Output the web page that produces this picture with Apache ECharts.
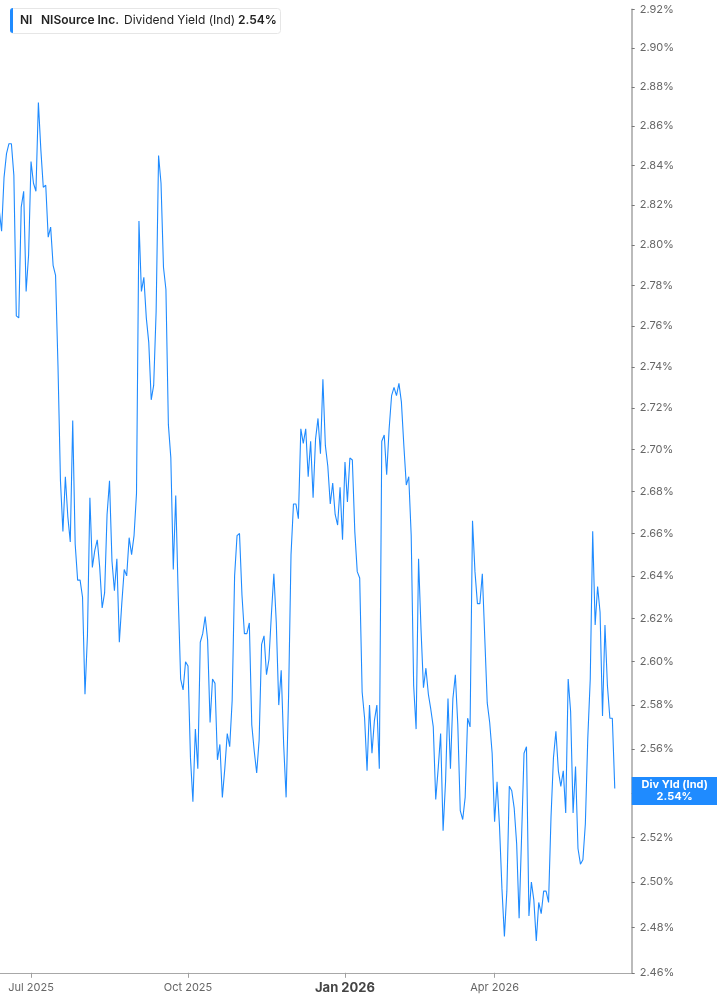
<!DOCTYPE html>
<html>
<head>
<meta charset="utf-8">
<title>NI Dividend Yield</title>
<script src="https://cdn.jsdelivr.net/npm/echarts@6/dist/echarts.min.js"></script>
<style>
  html, body { margin: 0; padding: 0; background: #fff; }
  #chart { width: 717px; height: 1005px; }
</style>
</head>
<body>
<div id="chart"></div>
<script>
// daily dividend yield (%), one value per trading day, from 11 Jun 2025
var yieldValues = [
  2.818, 2.807, 2.834, 2.846, 2.851, 2.851, 2.835, 2.765, 2.764, 2.819,
  2.827, 2.777, 2.795, 2.842, 2.831, 2.827, 2.872, 2.848, 2.829, 2.830,
  2.804, 2.809, 2.790, 2.785, 2.740, 2.685, 2.661, 2.687, 2.668, 2.656,
  2.714, 2.655, 2.638, 2.638, 2.630, 2.585, 2.612, 2.677, 2.644, 2.652,
  2.657, 2.644, 2.625, 2.632, 2.669, 2.685, 2.647, 2.633, 2.648, 2.609,
  2.627, 2.643, 2.640, 2.658, 2.650, 2.659, 2.679, 2.812, 2.777, 2.784,
  2.764, 2.752, 2.724, 2.731, 2.767, 2.845, 2.831, 2.789, 2.778, 2.712, 2.696,
  2.643, 2.678, 2.631, 2.592, 2.587, 2.600, 2.598, 2.556, 2.536,
  2.569, 2.551, 2.609, 2.613, 2.621, 2.610, 2.572, 2.592, 2.590, 2.555,
  2.562, 2.538, 2.551, 2.567, 2.561, 2.582, 2.640, 2.659, 2.660, 2.631,
  2.613, 2.613, 2.618, 2.571, 2.559, 2.549, 2.564, 2.608, 2.612, 2.594,
  2.601, 2.622, 2.641, 2.618, 2.580, 2.596, 2.562, 2.538, 2.584, 2.650,
  2.674, 2.674, 2.667, 2.710, 2.703, 2.710, 2.687, 2.704, 2.677, 2.705,
  2.715, 2.698, 2.734, 2.702, 2.692, 2.674, 2.684, 2.669,
  2.664, 2.682, 2.657, 2.694, 2.675, 2.696, 2.695, 2.661, 2.642, 2.639, 2.586, 2.574,
  2.550, 2.580, 2.558, 2.573, 2.580, 2.551, 2.704, 2.707, 2.688, 2.710,
  2.726, 2.730, 2.726, 2.732, 2.723, 2.702, 2.683, 2.687, 2.659, 2.589,
  2.569, 2.648, 2.615, 2.588, 2.597, 2.585, 2.578, 2.570, 2.537, 2.551,
  2.567, 2.523, 2.545, 2.583, 2.551, 2.583, 2.594, 2.571, 2.532, 2.528,
  2.538, 2.574, 2.570, 2.666, 2.642, 2.627, 2.627, 2.641, 2.611, 2.581,
  2.572, 2.558, 2.527, 2.545, 2.525, 2.497,
  2.476, 2.496, 2.543, 2.541, 2.533, 2.517, 2.484, 2.520, 2.558, 2.561, 2.485, 2.500, 2.492, 2.474,
  2.491, 2.486, 2.496, 2.496, 2.491, 2.529, 2.556, 2.568, 2.550, 2.543, 2.550, 2.531,
  2.592, 2.577, 2.531, 2.552, 2.515, 2.508, 2.510, 2.526, 2.565, 2.592,
  2.661, 2.617, 2.635, 2.623, 2.575, 2.617, 2.589, 2.574, 2.574, 2.542
];

var firstDay = [2025, 5, 11];
// NYSE closures: the x axis counts trading sessions only
var holidays = ['2025-06-19', '2025-07-04', '2025-09-01', '2025-11-27', '2025-12-25',
  '2026-01-01', '2026-01-19', '2026-02-16', '2026-04-03', '2026-05-25', '2026-06-19'];

var yTicks = [2.46, 2.48, 2.50, 2.52, 2.54, 2.56, 2.58, 2.60, 2.62, 2.64, 2.66, 2.68,
  2.70, 2.72, 2.74, 2.76, 2.78, 2.80, 2.82, 2.84, 2.86, 2.88, 2.90, 2.92];
var xTickMonths = [[2025, 6], [2025, 9], [2026, 0], [2026, 3]];
var monthNames = ['Jan','Feb','Mar','Apr','May','Jun','Jul','Aug','Sep','Oct','Nov','Dec'];

var blue = '#1f8bff';

function pad(n) { return n < 10 ? '0' + n : '' + n; }

// trading-day calendar (a few sessions past the last value, for the axis end)
var sessions = [];
var d = new Date(firstDay[0], firstDay[1], firstDay[2]);
while (sessions.length < yieldValues.length + 10) {
  var key = d.getFullYear() + '-' + pad(d.getMonth() + 1) + '-' + pad(d.getDate());
  var wd = d.getDay();
  if (wd !== 0 && wd !== 6 && holidays.indexOf(key) < 0) sessions.push(new Date(d.getTime()));
  d = new Date(d.getFullYear(), d.getMonth(), d.getDate() + 1);
}

// first session of each labelled month
var xTickIdx = xTickMonths.map(function (m) {
  for (var k = 0; k < sessions.length; k++) {
    if (sessions[k].getFullYear() === m[0] && sessions[k].getMonth() === m[1]) return k;
  }
  return 0;
});

// the y axis is logarithmic: plot ln(yield) against the session index
var seriesData = [];
for (var i = 0; i < yieldValues.length; i++) {
  seriesData.push([i, Math.log(yieldValues[i])]);
}
var lastValue = yieldValues[yieldValues.length - 1];
var yTickLogs = yTicks.map(function (v) { return Math.log(v); });

var chart = echarts.init(document.getElementById('chart'), null, { renderer: 'canvas' });

var option = {
  animation: false,
  textStyle: { fontFamily: 'Inter, "Noto Sans", sans-serif' },
  grid: { left: 0, right: 85.3, top: 9.3, bottom: 32.2, containLabel: false },
  xAxis: {
    type: 'value',
    min: 0.35,
    max: 257.9,
    axisLine: { show: true, lineStyle: { color: '#a8a8a8', width: 1.2 } },
    axisTick: { show: true, customValues: xTickIdx, length: 5, lineStyle: { color: '#a0a0a0' } },
    splitLine: { show: false },
    axisLabel: {
      customValues: xTickIdx,
      margin: 9,
      color: '#666',
      fontSize: 11,
      fontFamily: 'Inter, sans-serif',
      formatter: function (v) {
        var dt = sessions[Math.round(v)];
        var s = monthNames[dt.getMonth()] + ' ' + dt.getFullYear();
        return dt.getMonth() === 0 ? '{y|' + s + '}' : s;
      },
      rich: {
        y: { fontWeight: 'bold', fontSize: 13, color: '#444', fontFamily: 'Inter, sans-serif' }
      }
    }
  },
  yAxis: {
    type: 'value',
    position: 'right',
    min: Math.log(yTicks[0]),
    max: Math.log(yTicks[yTicks.length - 1]),
    axisLine: { show: true, lineStyle: { color: '#aaa', width: 1.6 } },
    axisTick: { show: true, inside: false, customValues: yTickLogs, length: 3, lineStyle: { color: '#777' } },
    splitLine: { show: false },
    axisLabel: {
      customValues: yTickLogs,
      margin: 8,
      color: '#666',
      fontSize: 11,
      fontFamily: 'Inter, sans-serif',
      formatter: function (v) { return Math.exp(v).toFixed(2) + '%'; }
    }
  },
  series: [{
    type: 'line',
    name: 'Dividend Yield (Ind)',
    data: seriesData,
    showSymbol: false,
    symbol: 'none',
    lineStyle: { color: blue, width: 1.1 },
    silent: true,
    markLine: {
      silent: true,
      symbol: 'none',
      lineStyle: { color: 'rgba(0,0,0,0)', width: 0 },
      emphasis: { disabled: true },
      data: [{ yAxis: Math.log(lastValue) }],
      label: {
        show: true,
        position: 'end',
        distance: 0,
        offset: [0, -14],
        align: 'left',
        backgroundColor: blue,
        padding: [2, 8, 2, 8],
        formatter: function () {
          return '{a|Div Yld (Ind)}\n{a|' + lastValue.toFixed(2) + '%}';
        },
        rich: {
          a: { color: '#fff', fontWeight: 'bold', fontSize: 11, lineHeight: 12, width: 70, align: 'center',
               fontFamily: 'Inter, sans-serif' }
        }
      }
    }
  }],
  graphic: [
    { type: 'rect', left: 10, top: 8, shape: { width: 270, height: 25, r: 3 },
      style: { fill: '#fff', stroke: '#e6e6e6', lineWidth: 1 } },
    { type: 'rect', left: 10, top: 8, shape: { width: 3, height: 25, r: [3, 0, 0, 3] },
      style: { fill: blue } },
    { type: 'text', left: 20, top: 14,
      style: { text: 'NI', font: '600 12px Inter, sans-serif', fill: '#222' } },
    { type: 'text', left: 41, top: 14,
      style: { text: 'NISource Inc.', font: '600 12px Inter, sans-serif', fill: '#222' } },
    { type: 'text', left: 124, top: 14,
      style: { text: 'Dividend Yield (Ind)', font: '12px Inter, sans-serif', fill: '#222' } },
    { type: 'text', left: 238, top: 14,
      style: { text: lastValue.toFixed(2) + '%', font: '600 12px Inter, sans-serif', fill: '#222' } }
  ]
};

chart.setOption(option);
</script>
</body>
</html>
